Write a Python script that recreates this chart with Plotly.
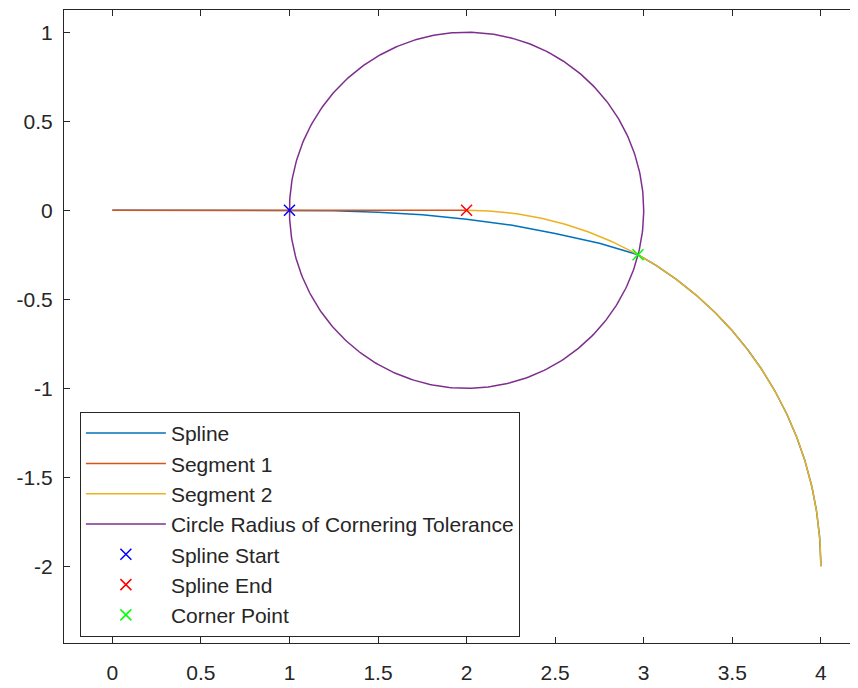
import numpy as np
import plotly.graph_objects as go

# ---- data ----
seg1_x = [0.0, 2.0]
seg1_y = [0.0, 0.0]

# straight lead-in and blended curve part of the spline
spline_curve_x = [0.0, 1.0, 1.25, 1.5, 1.75, 2.0, 2.25, 2.5, 2.75, 2.968]
spline_curve_y = [0.0, 0.0, -0.003, -0.011, -0.025, -0.05, -0.083, -0.13, -0.185, -0.25]

# segment 2: quarter arc (centre, radius, start/end angle in degrees)
arc_center = [2.0, -2.0]
arc_radius = 2.0
arc_angles = [90.0, 0.0]
corner_angle = 61.04  # angle of the corner point on the arc

# cornering-tolerance circle
circle_center = [2.0, 0.0]
circle_radius = 1.0

spline_start = [1.0, 0.0]
spline_end = [2.0, 0.0]
corner_point = [2.968, -0.25]

x_ticks = [0, 0.5, 1, 1.5, 2, 2.5, 3, 3.5, 4]
x_tick_labels = ["0", "0.5", "1", "1.5", "2", "2.5", "3", "3.5", "4"]
y_ticks = [1, 0.5, 0, -0.5, -1, -1.5, -2]
y_tick_labels = ["1", "0.5", "0", "-0.5", "-1", "-1.5", "-2"]

# ---- geometry helpers (render circular primitives) ----
def arc_pts(center, r, a0, a1, n=200):
    t = np.radians(np.linspace(a0, a1, n))
    return center[0] + r * np.cos(t), center[1] + r * np.sin(t)

seg2_x, seg2_y = arc_pts(arc_center, arc_radius, arc_angles[0], arc_angles[1])
tail_x, tail_y = arc_pts(arc_center, arc_radius, corner_angle, arc_angles[1])
spline_x = list(spline_curve_x) + list(tail_x)
spline_y = list(spline_curve_y) + list(tail_y)
circ_x, circ_y = arc_pts(circle_center, circle_radius, 0, 360, 400)

FONT = "Liberation Sans, Arial, sans-serif"
TXT = "#262626"

fig = go.Figure()
fig.add_trace(go.Scatter(x=spline_x, y=spline_y, mode="lines", name="Spline",
                         line=dict(color="#0072BD", width=1.5)))
fig.add_trace(go.Scatter(x=seg1_x, y=seg1_y, mode="lines", name="Segment 1",
                         line=dict(color="#D95319", width=1.5)))
fig.add_trace(go.Scatter(x=seg2_x, y=seg2_y, mode="lines", name="Segment 2",
                         line=dict(color="#EDB120", width=1.5)))
fig.add_trace(go.Scatter(x=circ_x, y=circ_y, mode="lines",
                         name="Circle Radius of Cornering Tolerance",
                         line=dict(color="#7E2F8E", width=1.5)))
for pt, nm, col in [(spline_start, "Spline Start", "#0000FF"),
                    (spline_end, "Spline End", "#FF0000"),
                    (corner_point, "Corner Point", "#00FF00")]:
    fig.add_trace(go.Scatter(x=[pt[0]], y=[pt[1]], mode="markers", name=nm,
                             marker=dict(symbol="x-thin", size=11, color=col,
                                         line=dict(color=col, width=1.5))))

axis_common = dict(showgrid=False, zeroline=False, showline=True,
                   linecolor=TXT, linewidth=1, ticks="inside", ticklen=6,
                   tickcolor=TXT, tickwidth=1, automargin=False,
                   tickfont=dict(family=FONT, size=21, color=TXT))

fig.update_layout(
    width=850, height=680,
    margin=dict(l=56, r=0, t=2, b=45, autoexpand=False),
    paper_bgcolor="white", plot_bgcolor="white",
    xaxis=dict(range=[-0.273, 4.21], tickvals=x_ticks, ticktext=x_tick_labels,
               ticklabelstandoff=11, mirror="ticks", **axis_common),
    yaxis=dict(range=[-2.431, 1.125], tickvals=y_ticks, ticktext=y_tick_labels,
               ticklabelstandoff=6, mirror=False, **axis_common),
    legend=dict(x=0.02, y=0.365, xanchor="left", yanchor="top",
                bgcolor="white", bordercolor=TXT, borderwidth=1,
                font=dict(family=FONT, size=21, color=TXT),
                itemwidth=80, tracegroupgap=0),
    showlegend=True,
)

fig.write_html("out.html")
